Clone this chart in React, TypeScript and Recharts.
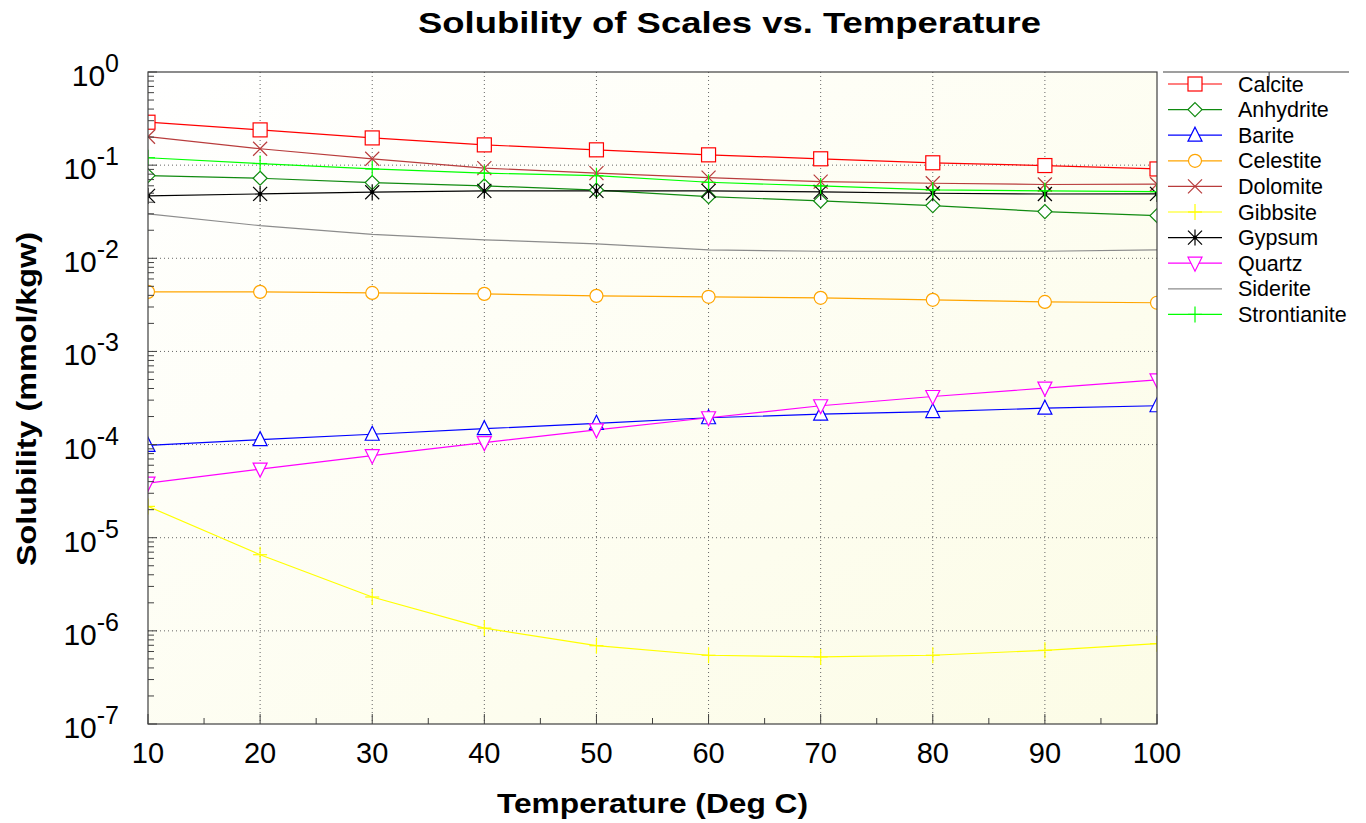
import { LineChart, Line, XAxis, YAxis, CartesianGrid } from 'recharts'

// temperature (Deg C)
const temps = [10, 20, 30, 40, 50, 60, 70, 80, 90, 100]

// solubility in mmol/kgw
const calcite = [0.289, 0.239, 0.196, 0.165, 0.146, 0.129, 0.117, 0.106, 0.099, 0.091]
const anhydrite = [0.0772, 0.0723, 0.065, 0.06, 0.054, 0.0459, 0.0413, 0.0368, 0.0317, 0.0287]
const barite = [9.8e-5, 1.13e-4, 1.29e-4, 1.48e-4, 1.69e-4, 1.94e-4, 2.12e-4, 2.26e-4, 2.46e-4, 2.61e-4]
const celestite = [0.00436, 0.00436, 0.00425, 0.00415, 0.00395, 0.00386, 0.00376, 0.00358, 0.0034, 0.00333]
const dolomite = [0.202, 0.15, 0.117, 0.093, 0.082, 0.0734, 0.0665, 0.0639, 0.062, 0.0624]
const gibbsite = [2.17e-5, 6.57e-6, 2.31e-6, 1.07e-6, 6.93e-7, 5.47e-7, 5.25e-7, 5.47e-7, 6.18e-7, 7.29e-7]
const gypsum = [0.0467, 0.0491, 0.0512, 0.053, 0.053, 0.053, 0.0516, 0.0499, 0.049, 0.0491]
const quartz = [3.86e-5, 5.46e-5, 7.6e-5, 1.05e-4, 1.44e-4, 1.94e-4, 2.61e-4, 3.28e-4, 4.04e-4, 4.96e-4]
const siderite = [0.03, 0.0224, 0.0181, 0.0158, 0.0143, 0.0123, 0.0119, 0.0119, 0.0119, 0.0123]
const strontianite = [0.12, 0.104, 0.091, 0.082, 0.077, 0.0655, 0.0598, 0.0542, 0.053, 0.052]

// axis ticks
const xMajor = [10, 20, 30, 40, 50, 60, 70, 80, 90, 100]
const xMinor = [15, 25, 35, 45, 55, 65, 75, 85, 95]
const decadeExps = [0, -1, -2, -3, -4, -5, -6, -7]
const minorMults = [2, 3, 4, 5, 6, 7, 8, 9]

const decades = decadeExps.map((e) => Math.pow(10, e))
const yTicks = [
  ...decades,
  ...decadeExps.slice(1).flatMap((e) => minorMults.map((m) => m * Math.pow(10, e))),
]
const xTicks = [...xMajor, ...xMinor].sort((a, b) => a - b)

const series = [
  { name: 'Calcite', values: calcite, color: '#ff0000', marker: 'square' },
  { name: 'Anhydrite', values: anhydrite, color: '#108a10', marker: 'diamond' },
  { name: 'Barite', values: barite, color: '#0000ff', marker: 'triUp' },
  { name: 'Celestite', values: celestite, color: '#ffa500', marker: 'circle' },
  { name: 'Dolomite', values: dolomite, color: '#b83c3c', marker: 'x' },
  { name: 'Gibbsite', values: gibbsite, color: '#ffff00', marker: 'plus' },
  { name: 'Gypsum', values: gypsum, color: '#000000', marker: 'star' },
  { name: 'Quartz', values: quartz, color: '#ff00ff', marker: 'triDown' },
  { name: 'Siderite', values: siderite, color: '#8c8c8c', marker: 'none' },
  { name: 'Strontianite', values: strontianite, color: '#00ff00', marker: 'plus' },
]

const rows = temps.map((t, i) => {
  const row: Record<string, number> = { t }
  series.forEach((s) => (row[s.name] = s.values[i]))
  return row
})

const FONT = "Arial, 'Liberation Sans', Helvetica, sans-serif"
const AXIS = '#404040'

// plot box inside the 1366x823 picture
const W = 1366
const H = 823
const PLOT = { left: 148, top: 72, right: 1157, bottom: 724 }

function Marker({ kind, cx, cy, color }: { kind: string; cx: number; cy: number; color: string }) {
  const sw = 1.2
  switch (kind) {
    case 'square':
      return <rect x={cx - 7} y={cy - 7} width={14} height={14} fill="#fff" stroke={color} strokeWidth={sw} />
    case 'diamond':
      return (
        <polygon
          points={`${cx},${cy - 7} ${cx + 7},${cy} ${cx},${cy + 7} ${cx - 7},${cy}`}
          fill="#fff"
          stroke={color}
          strokeWidth={sw}
        />
      )
    case 'triUp':
      return (
        <polygon
          points={`${cx},${cy - 8} ${cx + 7},${cy + 6} ${cx - 7},${cy + 6}`}
          fill="#fff"
          stroke={color}
          strokeWidth={sw}
        />
      )
    case 'triDown':
      return (
        <polygon
          points={`${cx - 7},${cy - 6} ${cx + 7},${cy - 6} ${cx},${cy + 8}`}
          fill="#fff"
          stroke={color}
          strokeWidth={sw}
        />
      )
    case 'circle':
      return <circle cx={cx} cy={cy} r={6.5} fill="#fff" stroke={color} strokeWidth={sw} />
    case 'x':
      return (
        <g stroke={color} strokeWidth={sw}>
          <line x1={cx - 7} y1={cy - 7} x2={cx + 7} y2={cy + 7} />
          <line x1={cx - 7} y1={cy + 7} x2={cx + 7} y2={cy - 7} />
        </g>
      )
    case 'plus':
      return (
        <g stroke={color} strokeWidth={sw}>
          <line x1={cx} y1={cy - 8} x2={cx} y2={cy + 8} />
          <line x1={cx - 7} y1={cy} x2={cx + 7} y2={cy} />
        </g>
      )
    case 'star':
      return (
        <g stroke={color} strokeWidth={sw}>
          <line x1={cx - 7} y1={cy - 7} x2={cx + 7} y2={cy + 7} />
          <line x1={cx - 7} y1={cy + 7} x2={cx + 7} y2={cy - 7} />
          <line x1={cx} y1={cy - 8} x2={cx} y2={cy + 8} />
          <circle cx={cx} cy={cy} r={1.5} fill={color} />
        </g>
      )
    default:
      return null
  }
}

const isMajorX = (v: number) => xMajor.includes(v)
const isDecade = (v: number) => decades.some((d) => Math.abs(v - d) < d * 1e-6)

function BottomTick(p: any) {
  const v = p.payload.value
  const major = isMajorX(v)
  const y = PLOT.bottom
  return (
    <g>
      <line x1={p.x} x2={p.x} y1={y} y2={y - (major ? 10 : 6)} stroke={AXIS} />
      {major && (
        <text x={p.x} y={y + 39} textAnchor="middle" fontSize={29} fontFamily={FONT} fill="#000">
          {v}
        </text>
      )}
    </g>
  )
}

function TopTick(p: any) {
  const major = isMajorX(p.payload.value)
  const y = PLOT.top
  return <line x1={p.x} x2={p.x} y1={y} y2={y + (major ? 10 : 6)} stroke={AXIS} />
}

function LeftTick(p: any) {
  const v = p.payload.value
  const major = isDecade(v)
  const exp = Math.round(Math.log10(v))
  const x = PLOT.left
  return (
    <g>
      <line x1={x} x2={x + (major ? 9 : 6)} y1={p.y} y2={p.y} stroke={AXIS} />
      {major && (
        <text x={119} y={p.y + 14} textAnchor="end" fontFamily={FONT} fill="#000">
          <tspan fontSize={30}>10</tspan>
          <tspan fontSize={25} dy={-14}>
            {exp}
          </tspan>
        </text>
      )}
    </g>
  )
}

function RightTick(p: any) {
  const major = isDecade(p.payload.value)
  const x = PLOT.right
  return <line x1={x} x2={x - (major ? 9 : 6)} y1={p.y} y2={p.y} stroke={AXIS} />
}

const LEGEND_Y = 84
const LEGEND_STEP = 25.6

export default function App() {
  return (
    <div style={{ position: 'absolute', left: 0, top: 0, width: W, height: H, background: '#fff' }}>
      <LineChart
        width={W}
        height={H}
        data={rows}
        margin={{ top: PLOT.top - 1, right: W - PLOT.right - 1, bottom: H - PLOT.bottom - 1, left: PLOT.left - 1 }}
      >
        <defs>
          <linearGradient id="plotBg" x1="0" y1="0" x2="1" y2="1">
            <stop offset="0%" stopColor="#ffffff" />
            <stop offset="100%" stopColor="#fcfce6" />
          </linearGradient>
          <clipPath id="plotClip">
            <rect x={PLOT.left} y={PLOT.top} width={PLOT.right - PLOT.left} height={PLOT.bottom - PLOT.top} />
          </clipPath>
        </defs>
        <CartesianGrid
          fill="url(#plotBg)"
          stroke="#666"
          strokeDasharray="1 3"
          horizontalValues={decades.slice(1, -1)}
          verticalValues={xMajor.slice(1, -1)}
        />
        <XAxis
          dataKey="t"
          type="number"
          domain={[10, 100]}
          ticks={xTicks}
          interval={0}
          height={1}
          tickSize={0}
          tickMargin={0}
          tickLine={false}
          axisLine={false}
          tick={<BottomTick />}
          allowDataOverflow
        />
        <XAxis
          xAxisId="top"
          orientation="top"
          type="number"
          domain={[10, 100]}
          ticks={xTicks}
          interval={0}
          height={1}
          tickSize={0}
          tickMargin={0}
          tickLine={false}
          axisLine={false}
          tick={<TopTick />}
        />
        <YAxis
          type="number"
          scale="log"
          domain={[1e-7, 1]}
          ticks={yTicks}
          interval={0}
          width={1}
          tickSize={0}
          tickMargin={0}
          tickLine={false}
          axisLine={false}
          tick={<LeftTick />}
          allowDataOverflow
        />
        <YAxis
          yAxisId="right"
          orientation="right"
          type="number"
          scale="log"
          domain={[1e-7, 1]}
          ticks={yTicks}
          interval={0}
          width={1}
          tickSize={0}
          tickMargin={0}
          tickLine={false}
          axisLine={false}
          tick={<RightTick />}
        />
        {series.map((s) => (
          <Line
            key={s.name}
            dataKey={s.name}
            type="linear"
            stroke={s.color}
            strokeWidth={1.2}
            isAnimationActive={false}
            activeDot={false}
            dot={(p: any) => (
              <g key={`${s.name}-${p.index}`} clipPath="url(#plotClip)">
                <Marker kind={s.marker} cx={p.cx} cy={p.cy} color={s.color} />
              </g>
            )}
          />
        ))}
      </LineChart>

      <svg width={W} height={H} style={{ position: 'absolute', left: 0, top: 0, pointerEvents: 'none' }}>
        <rect
          x={PLOT.left}
          y={PLOT.top}
          width={PLOT.right - PLOT.left}
          height={PLOT.bottom - PLOT.top}
          fill="none"
          stroke={AXIS}
          strokeWidth={1.2}
        />
        <text
          x={729.5}
          y={33}
          textAnchor="middle"
          fontSize={30}
          fontWeight="bold"
          fontFamily={FONT}
          textLength={623}
          lengthAdjust="spacingAndGlyphs"
        >
          Solubility of Scales vs. Temperature
        </text>
        <text
          x={652.5}
          y={813}
          textAnchor="middle"
          fontSize={28}
          fontWeight="bold"
          fontFamily={FONT}
          textLength={311}
          lengthAdjust="spacingAndGlyphs"
        >
          Temperature (Deg C)
        </text>
        <text
          transform="translate(36, 399) rotate(-90)"
          textAnchor="middle"
          fontSize={28}
          fontWeight="bold"
          fontFamily={FONT}
          textLength={334}
          lengthAdjust="spacingAndGlyphs"
        >
          Solubility (mmol/kgw)
        </text>

        <line x1={1163} x2={1349} y1={72} y2={72} stroke={AXIS} strokeWidth={1.2} />
        {series.map((s, i) => {
          const y = LEGEND_Y + i * LEGEND_STEP
          return (
            <g key={s.name}>
              <line x1={1168} x2={1222} y1={y} y2={y} stroke={s.color} strokeWidth={1.2} />
              <Marker kind={s.marker} cx={1195} cy={y} color={s.color} />
              <text x={1238} y={y + 7.5} fontSize={21.5} fontFamily={FONT} fill="#000">
                {s.name}
              </text>
            </g>
          )
        })}
      </svg>
    </div>
  )
}
